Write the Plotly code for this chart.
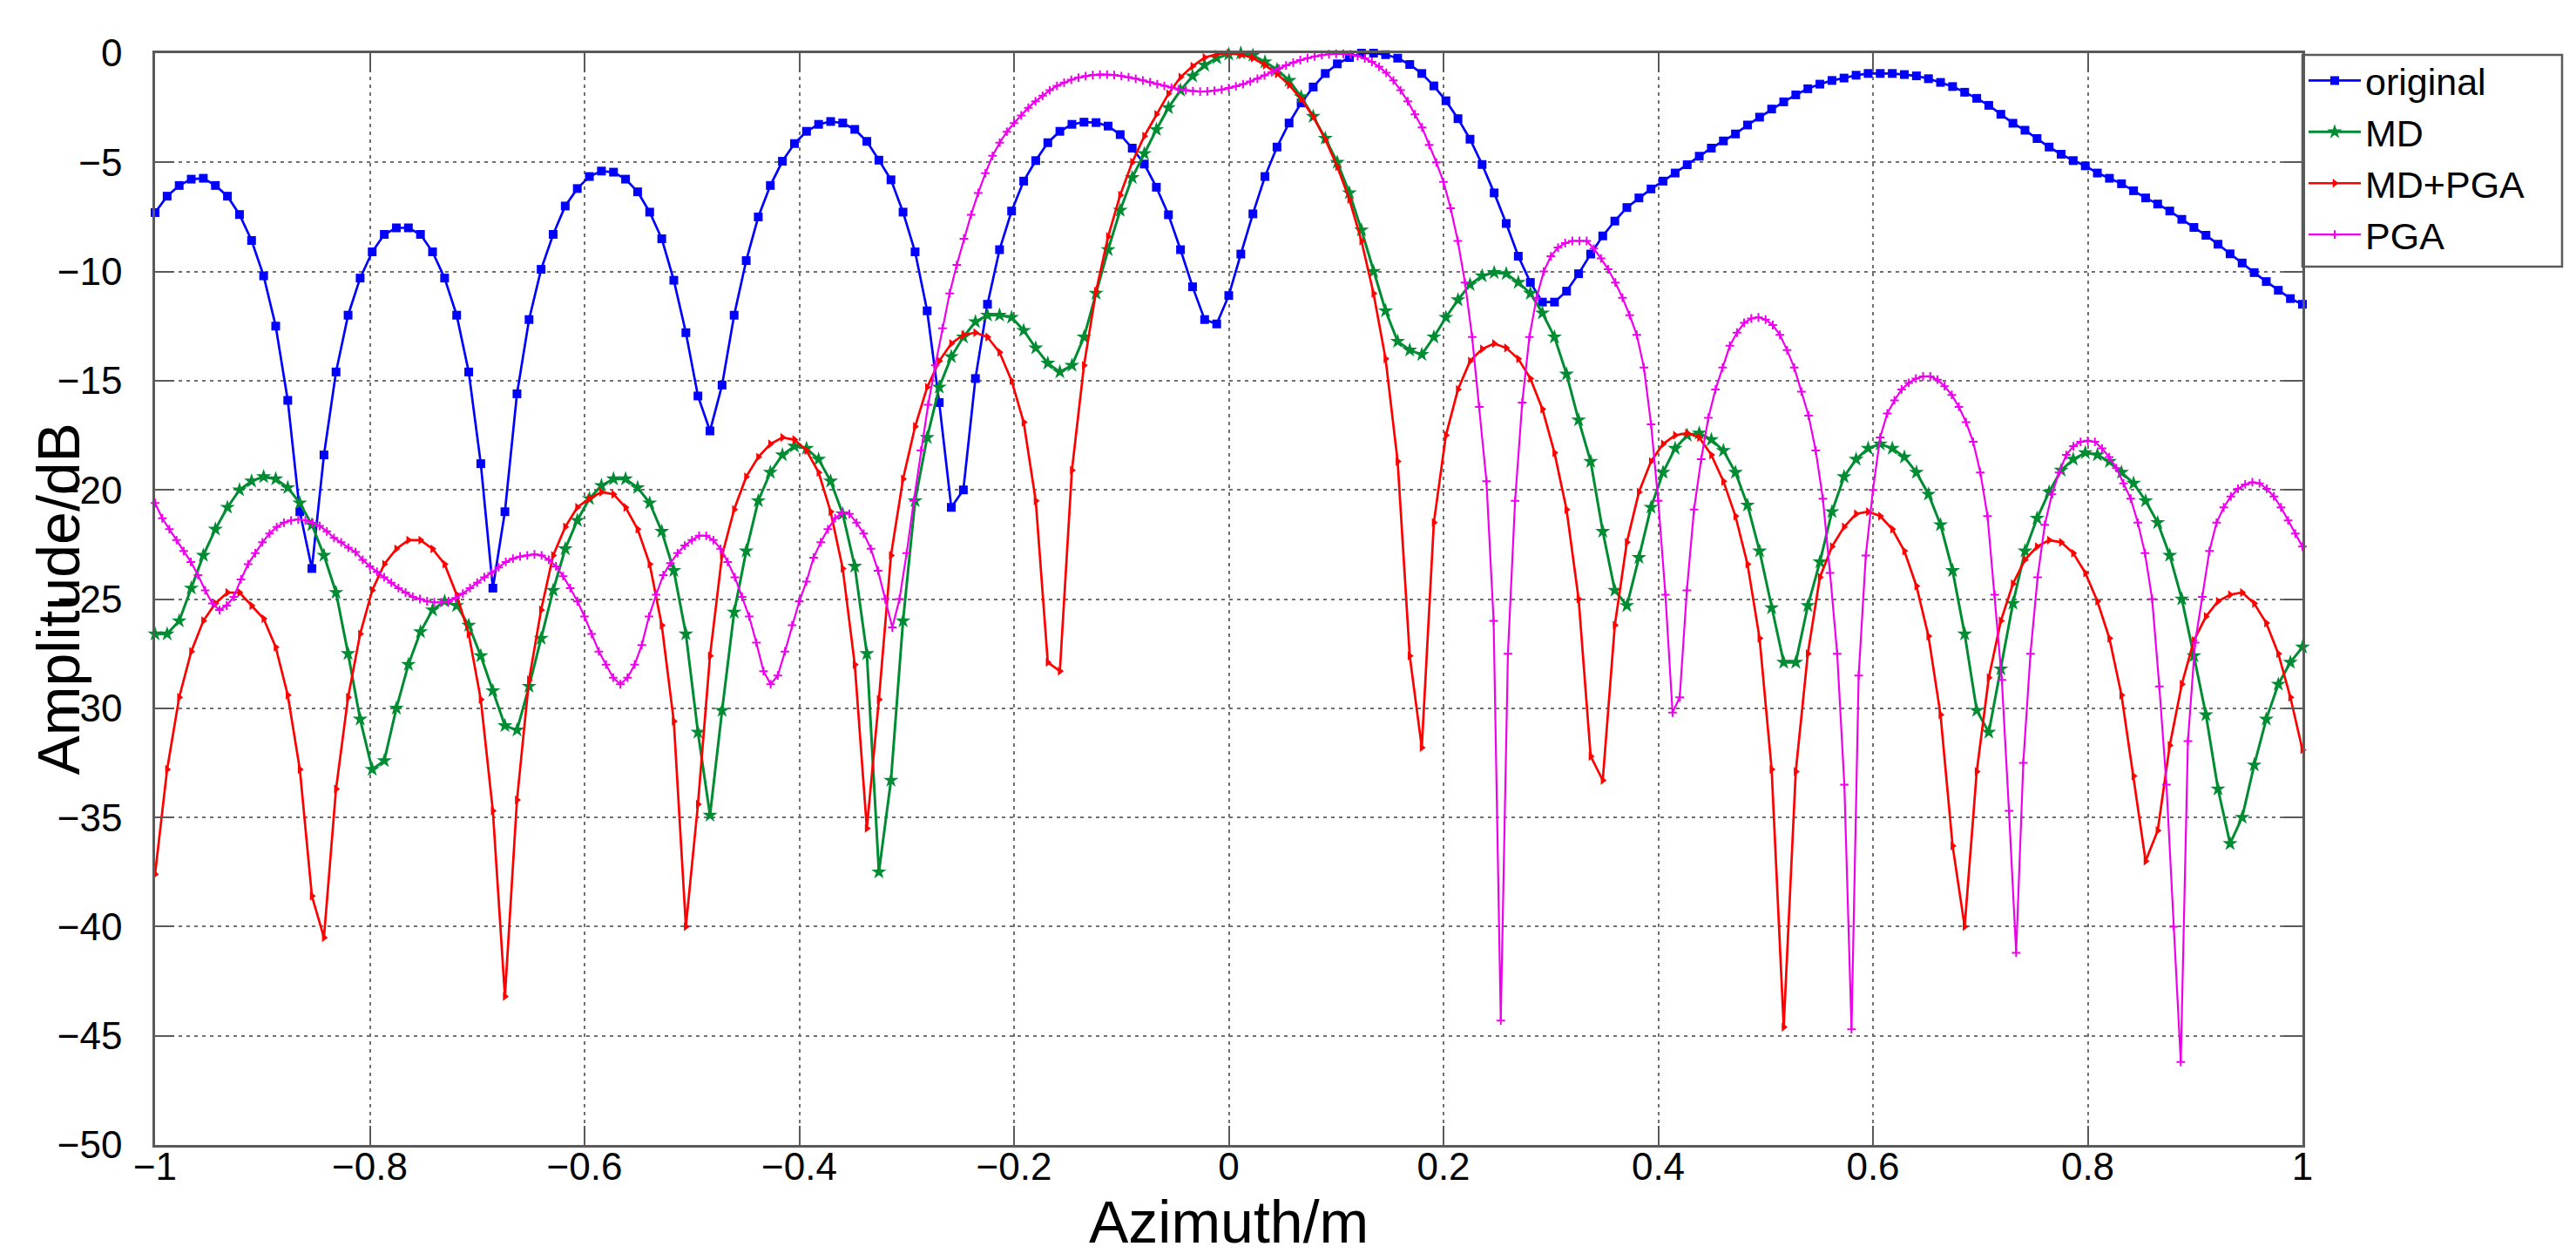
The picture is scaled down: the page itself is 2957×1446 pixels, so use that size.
import numpy as np
import plotly.graph_objects as go

# shared azimuth grid for original / MD / MD+PGA, denser grid for PGA
x_main = np.linspace(-1, 1, 179)
x_pga = np.linspace(-1, 1, 301)

original = [
    -7.3, -6.55, -6.06, -5.77, -5.73, -6.06, -6.55, -7.39, -8.58, -10.2,
    -12.5, -15.9, -21.0, -23.6, -18.4, -14.6, -12.0, -10.3, -9.1, -8.3,
    -8.0, -8.0, -8.3, -9.1, -10.3, -12.0, -14.6, -18.8, -24.5, -21.0,
    -15.6, -12.2, -9.9, -8.3, -7.0, -6.2, -5.65, -5.4, -5.45, -5.77,
    -6.35, -7.28, -8.5, -10.4, -12.8, -15.7, -17.3, -15.2, -12.0, -9.5,
    -7.5, -6.06, -4.95, -4.14, -3.58, -3.26, -3.13, -3.2, -3.49, -4.04,
    -4.9, -5.8, -7.28, -9.1, -11.8, -16.0, -20.8, -20.0, -14.9, -11.5,
    -9.0, -7.23, -5.86, -4.92, -4.1, -3.58, -3.26, -3.16, -3.18, -3.34,
    -3.73, -4.35, -5.08, -6.14, -7.4, -9.0, -10.7, -12.2, -12.4, -11.1,
    -9.2, -7.36, -5.65, -4.3, -3.2, -2.28, -1.55, -0.93, -0.49, -0.2,
    0.0, 0.0, -0.07, -0.23, -0.52, -0.93, -1.5, -2.18, -3.0, -3.94,
    -5.1, -6.4, -7.8, -9.3, -10.5, -11.4, -11.4, -10.9, -10.1, -9.2,
    -8.37, -7.69, -7.07, -6.63, -6.22, -5.86, -5.49, -5.11, -4.72, -4.35,
    -4.02, -3.70, -3.29, -2.93, -2.56, -2.23, -1.91, -1.63, -1.42, -1.25,
    -1.14, -1.01, -0.93, -0.93, -0.93, -0.98, -1.04, -1.17, -1.34, -1.53,
    -1.79, -2.07, -2.39, -2.80, -3.21, -3.53, -3.91, -4.30, -4.63, -4.92,
    -5.16, -5.49, -5.73, -5.98, -6.30, -6.63, -6.91, -7.23, -7.61, -7.98,
    -8.34, -8.75, -9.19, -9.61, -10.05, -10.46, -10.86, -11.24, -11.5,
]

md = [
    -26.6, -26.6, -26.0, -24.5, -23.0, -21.8, -20.8, -20.0, -19.6, -19.4,
    -19.5, -19.9, -20.6, -21.6, -23.0, -24.7, -27.5, -30.5, -32.8, -32.4,
    -30.0, -28.0, -26.5, -25.5, -25.1, -25.3, -26.2, -27.6, -29.2, -30.8,
    -31.0, -29.0, -26.8, -24.6, -22.7, -21.4, -20.4, -19.8, -19.5, -19.5,
    -19.9, -20.6, -21.9, -23.7, -26.6, -31.1, -34.9, -30.1, -25.6, -22.8,
    -20.5, -19.2, -18.4, -18.0, -18.1, -18.6, -19.6, -21.1, -23.5, -27.5,
    -37.5, -33.3, -26.0, -20.5, -17.6, -15.3, -13.9, -13.0, -12.3, -12.0,
    -12.0, -12.1, -12.7, -13.5, -14.2, -14.6, -14.3, -13.0, -11.0, -9.0,
    -7.2, -5.7, -4.6, -3.5, -2.5, -1.7, -1.05, -0.55, -0.22, -0.05,
    0.0, -0.1, -0.4, -0.75, -1.25, -2.0, -2.9, -3.9, -5.0, -6.4,
    -8.1, -10.0, -11.8, -13.2, -13.6, -13.8, -13.0, -12.1, -11.3, -10.6,
    -10.2, -10.05, -10.1, -10.5, -11.0, -11.9, -13.0, -14.7, -16.8, -18.7,
    -21.9, -24.6, -25.3, -23.1, -20.8, -19.2, -18.1, -17.5, -17.4, -17.7,
    -18.2, -19.2, -20.7, -22.8, -25.4, -27.9, -27.9, -25.3, -23.3, -21.0,
    -19.4, -18.6, -18.1, -17.9, -18.1, -18.5, -19.2, -20.2, -21.6, -23.7,
    -26.6, -30.1, -31.1, -28.2, -25.2, -22.8, -21.3, -20.1, -19.1, -18.6,
    -18.3, -18.4, -18.7, -19.2, -19.7, -20.5, -21.5, -23.0, -25.0, -27.6,
    -30.3, -33.7, -36.2, -35.0, -32.6, -30.5, -28.9, -27.9, -27.2,
]

md_pga = [
    -37.6, -32.8, -29.5, -27.4, -26.0, -25.2, -24.7, -24.7, -25.3, -25.9,
    -27.2, -29.4, -32.8, -38.6, -40.5, -33.7, -29.5, -26.6, -24.6, -23.4,
    -22.7, -22.3, -22.3, -22.7, -23.4, -24.8, -26.6, -29.6, -34.7, -43.2,
    -34.2, -28.7, -25.5, -23.0, -21.7, -20.8, -20.4, -20.1, -20.2, -20.8,
    -21.8, -23.4, -26.2, -30.6, -40.0, -34.4, -27.6, -23.0, -20.9, -19.4,
    -18.5, -17.9, -17.6, -17.7, -18.2, -19.2, -21.0, -23.6, -28.0, -35.5,
    -29.6, -23.0, -19.5, -17.1, -15.3, -14.1, -13.3, -12.9, -12.8, -13.0,
    -13.7, -15.0, -16.9, -20.5, -27.9, -28.3, -19.1, -14.3, -10.9, -8.4,
    -6.5, -5.0, -3.8, -2.8, -1.86, -1.1, -0.6, -0.2, -0.05, 0.0,
    -0.07, -0.22, -0.55, -0.95, -1.45, -2.1, -2.9, -3.95, -5.2, -6.7,
    -8.6, -11.0, -14.0, -18.7, -27.6, -31.8, -21.5, -17.5, -15.4, -14.1,
    -13.55, -13.3, -13.5, -14.0, -14.9, -16.3, -18.3, -20.9, -25.0, -32.2,
    -33.3, -26.2, -22.4, -20.1, -18.7, -17.9, -17.5, -17.4, -17.6, -18.4,
    -19.6, -21.2, -23.4, -26.8, -32.8, -44.6, -32.9, -27.5, -24.0, -22.6,
    -21.7, -21.1, -21.0, -21.2, -21.8, -22.8, -24.4, -26.7, -30.3, -36.3,
    -40.0, -32.9, -28.6, -26.0, -24.3, -23.2, -22.6, -22.3, -22.4, -22.9,
    -23.8, -25.1, -26.8, -29.4, -33.1, -37.0, -35.6, -31.7, -28.9, -26.9,
    -25.8, -25.1, -24.8, -24.7, -25.2, -26.1, -27.5, -29.5, -31.9,
]

pga = [
    -20.6, -21.3, -21.8, -22.3, -22.8, -23.3, -23.9, -24.6, -25.2, -25.5,
    -25.3, -24.9, -24.1, -23.4, -22.9, -22.4, -22.0, -21.7, -21.5, -21.4,
    -21.35, -21.4, -21.5, -21.65, -21.9, -22.2, -22.4, -22.65, -22.85, -23.2,
    -23.5, -23.75, -24.0, -24.25, -24.5, -24.7, -24.9, -25.0, -25.1, -25.15,
    -25.15, -25.1, -24.95, -24.75, -24.5, -24.25, -24.0, -23.8, -23.55, -23.3,
    -23.15, -23.05, -23.0, -22.95, -23.0, -23.2, -23.5, -23.95, -24.5, -25.1,
    -25.8, -26.6, -27.4, -28.0, -28.6, -28.9, -28.6, -28.0, -27.1, -25.8,
    -24.8, -23.9, -23.35, -22.9, -22.55, -22.3, -22.1, -22.1, -22.3, -22.7,
    -23.3, -24.0, -24.9, -25.8, -27.0, -28.3, -28.9, -28.5, -27.4, -26.2,
    -25.1, -24.2, -23.1, -22.4, -21.8, -21.3, -21.05, -21.1, -21.5, -22.0,
    -22.7, -23.7, -25.0, -26.3, -25.0, -22.9, -20.5, -18.2, -16.1, -14.3,
    -12.6, -11.0, -9.7, -8.5, -7.4, -6.4, -5.5, -4.7, -4.1, -3.6,
    -3.2, -2.85, -2.5, -2.2, -1.95, -1.7, -1.5, -1.35, -1.22, -1.12,
    -1.05, -1.0, -0.98, -0.98, -1.0, -1.05, -1.1, -1.17, -1.25, -1.33,
    -1.42, -1.5, -1.58, -1.65, -1.7, -1.74, -1.76, -1.75, -1.72, -1.67,
    -1.6, -1.52, -1.42, -1.3, -1.17, -1.02, -0.87, -0.7, -0.56, -0.43,
    -0.32, -0.23, -0.15, -0.09, -0.05, -0.03, -0.03, -0.06, -0.13, -0.24,
    -0.4, -0.62, -0.9, -1.25, -1.7, -2.2, -2.8, -3.4, -4.2, -5.0,
    -5.9, -7.1, -8.6, -10.5, -13.0, -16.2, -19.6, -26.0, -44.3, -27.5,
    -20.5, -16.0, -13.0, -11.2, -10.0, -9.3, -8.9, -8.7, -8.6, -8.6,
    -8.6, -8.95, -9.4, -9.9, -10.5, -11.2, -12.0, -12.9, -14.4, -17.0,
    -20.5, -24.8, -30.2, -29.5, -24.6, -20.9, -18.6, -16.7, -15.4, -14.4,
    -13.4, -12.8, -12.35, -12.15, -12.1, -12.2, -12.45, -12.9, -13.6, -14.4,
    -15.5, -16.6, -18.2, -20.4, -23.8, -27.5, -33.5, -44.7, -28.5, -23.0,
    -20.0, -17.6, -16.5, -15.9, -15.4, -15.1, -14.9, -14.8, -14.8, -14.95,
    -15.25, -15.65, -16.2, -16.9, -17.8, -19.2, -21.2, -24.8, -28.7, -34.7,
    -41.2, -32.5, -27.5, -24.0, -21.6, -20.2, -19.2, -18.4, -18.0, -17.8,
    -17.75, -17.8, -18.1, -18.5, -19.0, -19.7, -20.4, -21.5, -22.9, -25.0,
    -29.0, -33.5, -40.0, -46.2, -31.5, -27.0, -24.9, -22.8, -21.5, -20.8,
    -20.3, -19.95, -19.75, -19.65, -19.7, -19.95, -20.3, -20.8, -21.4, -22.0,
    -22.6,
]

x_tickvals = [-1, -0.8, -0.6, -0.4, -0.2, 0, 0.2, 0.4, 0.6, 0.8, 1]
x_ticktext = ["\u22121", "\u22120.8", "\u22120.6", "\u22120.4", "\u22120.2", "0",
              "0.2", "0.4", "0.6", "0.8", "1"]
y_tickvals = [0, -5, -10, -15, -20, -25, -30, -35, -40, -45, -50]
y_ticktext = ["0", "\u22125", "\u221210", "\u221215", "\u221220", "\u221225",
              "\u221230", "\u221235", "\u221240", "\u221245", "\u221250"]

FONT = "Liberation Sans, Arial, Helvetica, sans-serif"
AX = "#5a5a5a"

# plot-area geometry in pixels (for placing titles / legend frame)
W, H = 2957, 1446
L, R, T, B = 170, 2635, 53, 1306
PW, PH = R - L, B - T


def px_x(p):
    return (p - L) / PW


def px_y(p):
    return (B - p) / PH


fig = go.Figure()
fig.add_trace(go.Scatter(
    x=x_main, y=original, name="original", mode="lines+markers",
    line=dict(color="#0000FF", width=2.7),
    marker=dict(symbol="square", size=10, color="#0000FF"),
    cliponaxis=False))
fig.add_trace(go.Scatter(
    x=x_main, y=md, name="MD", mode="lines+markers",
    line=dict(color="#008C32", width=3),
    marker=dict(symbol="star", size=13, color="#008C32"),
    cliponaxis=False))
fig.add_trace(go.Scatter(
    x=x_main, y=md_pga, name="MD+PGA", mode="lines+markers",
    line=dict(color="#FF0000", width=2.7),
    marker=dict(symbol="triangle-right", size=9, color="#FF0000"),
    cliponaxis=False))
fig.add_trace(go.Scatter(
    x=x_pga, y=pga, name="PGA", mode="lines+markers",
    line=dict(color="#EE00EE", width=2.2),
    marker=dict(symbol="cross-thin-open", size=7, color="#EE00EE",
                line=dict(color="#EE00EE", width=2)),
    cliponaxis=False))

fig.update_layout(
    width=W, height=H,
    paper_bgcolor="white", plot_bgcolor="white",
    margin=dict(l=L, r=W - R, t=T, b=H - B, autoexpand=False),
    font=dict(family=FONT, color="black"),
    showlegend=True,
    legend=dict(
        x=px_x(R + 2), y=px_y(50), xanchor="left", yanchor="top",
        xref="paper", yref="paper",
        bgcolor="rgba(0,0,0,0)", borderwidth=0,
        font=dict(family=FONT, size=43, color="black"),
        itemwidth=60, tracegroupgap=0,
    ),
    shapes=[dict(
        type="rect", xref="paper", yref="paper",
        x0=px_x(R), x1=px_x(2933), y0=px_y(298), y1=px_y(55),
        line=dict(color=AX, width=2.5), fillcolor="rgba(255,255,255,0)",
        layer="above")],
    annotations=[
        dict(text="Azimuth/m", xref="paper", yref="paper",
             x=0.5, y=px_y(1394), xanchor="center", yanchor="middle",
             showarrow=False, font=dict(family=FONT, size=68, color="black")),
        dict(text="Amplitude/dB", xref="paper", yref="paper",
             x=px_x(58), y=0.5, xanchor="center", yanchor="middle",
             textangle=-90, showarrow=False,
             font=dict(family=FONT, size=68, color="black")),
    ],
)

fig.update_xaxes(
    range=[-1, 1], tickmode="array", tickvals=x_tickvals, ticktext=x_ticktext,
    tickfont=dict(family=FONT, size=44, color="black"),
    ticks="inside", ticklen=22, tickwidth=2, tickcolor=AX,
    showline=True, linecolor=AX, linewidth=2.5, mirror="ticks",
    showgrid=True, gridcolor="#707070", gridwidth=2, griddash="4px,5px",
    zeroline=False, automargin=False, ticklabelstandoff=-16,
)
fig.update_yaxes(
    range=[-50, 0], tickmode="array", tickvals=y_tickvals, ticktext=y_ticktext,
    tickfont=dict(family=FONT, size=44, color="black"),
    ticks="inside", ticklen=22, tickwidth=2, tickcolor=AX,
    showline=True, linecolor=AX, linewidth=2.5, mirror="ticks",
    showgrid=True, gridcolor="#707070", gridwidth=2, griddash="4px,5px",
    zeroline=False, automargin=False, ticklabelstandoff=26,
)

fig.write_html("out.html")
